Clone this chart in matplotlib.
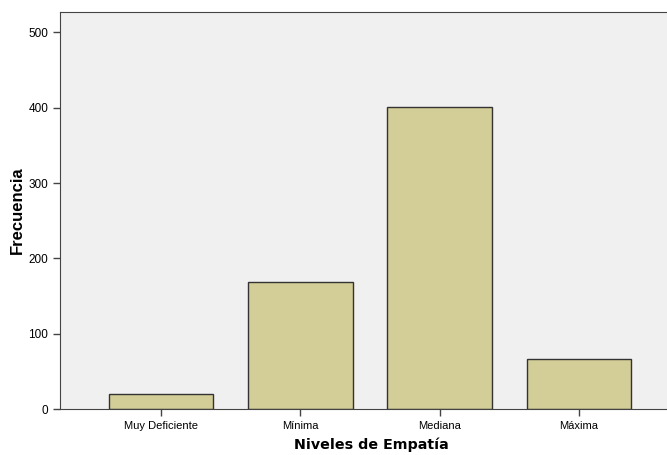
import matplotlib
matplotlib.use('Agg')
import matplotlib.pyplot as plt

niveles = ['Muy Deficiente', 'Mínima', 'Mediana', 'Máxima']
frecuencia = [20, 168, 401, 66]
yticks = [0, 100, 200, 300, 400, 500]

plt.rcParams['font.family'] = ['Liberation Sans', 'DejaVu Sans']

fig = plt.figure(figsize=(6.67, 4.55), dpi=100)
ax = fig.add_axes([60 / 667, 46 / 455, 607 / 667, 397 / 455])
ax.set_facecolor('#f0f0f0')

x = range(len(niveles))
ax.bar(x, frecuencia, width=0.75, color='#d3ce97', edgecolor='#333333', linewidth=1)

ax.set_xlim(-0.727, 3.633)
ax.set_ylim(0, 527)
ax.set_xticks(list(x))
ax.set_xticklabels(niveles, fontsize=8)
ax.set_yticks(yticks)
ax.tick_params(axis='y', labelsize=8.5, length=5, color='#444444', width=1)
ax.tick_params(axis='x', length=5, color='#444444', width=1)

for side in ['left', 'bottom', 'top']:
    ax.spines[side].set_color('#444444')
ax.spines['right'].set_visible(False)

ax.set_ylabel('Frecuencia', fontsize=12, fontweight='bold')
ax.yaxis.set_label_coords(-0.058, 0.5)
ax.set_xlabel('Niveles de Empatía', fontsize=10.3, fontweight='bold',
              fontfamily='DejaVu Sans')
ax.xaxis.set_label_coords((371 - 60) / 607, -0.072)

fig.savefig('out.png', dpi=100)
